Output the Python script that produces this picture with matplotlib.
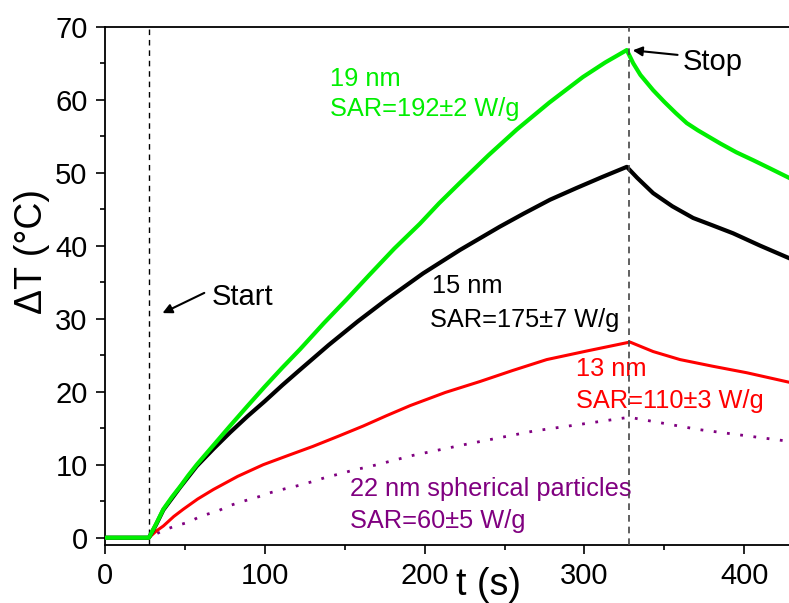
import matplotlib
matplotlib.use("Agg")
import matplotlib.pyplot as plt
from matplotlib.ticker import MultipleLocator

plt.rcParams['font.family'] = ['Liberation Sans', 'DejaVu Sans']

# ---- data ----
t_19 = [0, 27.5, 32, 36.5, 42, 47, 52, 57.4, 68, 78.2, 89, 100, 111, 122, 137, 151, 165, 181, 197, 209, 222,
        240, 257.6, 278, 299, 313, 326.5, 330.5, 335, 343, 350, 357, 364, 371, 385, 395, 405.7, 416, 428]
v_19 = [0, 0, 1.9, 3.9, 5.6, 7.0, 8.5, 10.0, 12.7, 15.3, 18.0, 20.7, 23.3, 25.8, 29.4, 32.6, 35.9, 39.6, 43.0, 45.8, 48.6,
        52.4, 55.9, 59.6, 63.1, 65.1, 66.8, 65.0, 63.4, 61.3, 59.7, 58.2, 56.8, 55.8, 54.0, 52.8, 51.7, 50.6, 49.3]

t_15 = [0, 27.5, 32, 36.5, 47, 57.4, 68, 78.2, 89, 100, 111, 122, 140, 158, 176, 199, 222, 247, 262, 278.5, 295, 311,
        326.5, 333, 343, 355, 368, 380, 393, 410, 428]
v_15 = [0, 0, 1.8, 3.8, 6.9, 9.8, 12.2, 14.4, 16.6, 18.7, 20.9, 23.0, 26.4, 29.6, 32.6, 36.2, 39.4, 42.6, 44.4, 46.3, 47.9, 49.4,
        50.8, 49.3, 47.2, 45.4, 43.8, 42.8, 41.7, 40.0, 38.3]

t_13 = [0, 27.5, 32, 36.5, 43, 49, 58, 67.8, 83, 99, 115, 130, 146, 161.6, 176, 191, 213, 234.7, 255, 276.4, 302,
        328.5, 343, 359.8, 380, 401.5, 428]
v_13 = [0, 0, 0.9, 1.6, 2.9, 3.9, 5.3, 6.6, 8.4, 10.0, 11.3, 12.5, 13.9, 15.3, 16.7, 18.1, 19.9, 21.4, 22.9, 24.4, 25.6,
        26.8, 25.5, 24.4, 23.5, 22.6, 21.3]

t_22 = [0, 27.5, 35.5, 43.8, 52, 60.5, 70, 78, 86.6, 96, 104, 112.6, 122, 130, 138.7, 148, 156, 164.8, 182.5, 191,
        226, 268, 328, 372, 428]
v_22 = [0, 0, 0.9, 1.6, 2.1, 3.0, 3.6, 4.4, 5.0, 5.6, 6.2, 6.7, 7.2, 7.7, 8.3, 8.8, 9.3, 9.7, 10.7, 11.2,
        12.8, 14.6, 16.5, 14.8, 13.2]

t_start = 27.5
t_stop = 327.7

x_ticks = [0, 100, 200, 300, 400]
y_ticks = [0, 10, 20, 30, 40, 50, 60, 70]

labels = {
    '19': ("19 nm", "SAR=192±2 W/g"),
    '15': ("15 nm", "SAR=175±7 W/g"),
    '13': ("13 nm", "SAR=110±3 W/g"),
    '22': ("22 nm spherical particles", "SAR=60±5 W/g"),
}

GREEN = '#00ee00'
RED = '#ff0000'
PURPLE = '#800080'

fig = plt.figure(figsize=(7.89, 6.03), dpi=100)
ax = fig.add_axes([105/789, 1-545/603, 1-105/789, (545-26.7)/603])

ax.plot(t_22, v_22, color=PURPLE, lw=2.0, linestyle=(0, (1, 3.8)), zorder=2)
ax.plot(t_13, v_13, color=RED, lw=2.2, zorder=3)
ax.plot(t_15, v_15, color='black', lw=3.0, zorder=4)
ax.plot(t_19, v_19, color=GREEN, lw=3.0, zorder=5)

ax.axvline(t_start, color='black', lw=1.0, linestyle=(0, (4, 3.5)), zorder=1)
ax.axvline(t_stop, color='#444444', lw=1.2, linestyle=(0, (4, 3)), zorder=6)

ax.set_xlim(0, 428)
ax.set_ylim(-1, 70)
ax.set_xticks(x_ticks)
ax.set_yticks(y_ticks)
ax.xaxis.set_minor_locator(MultipleLocator(50))
ax.yaxis.set_minor_locator(MultipleLocator(5))
ax.tick_params(which='both', direction='out', width=1.2, top=False, right=False)
ax.tick_params(which='major', length=6.5, labelsize=21, pad=6)
ax.tick_params(which='minor', length=3.8)
for s in ['left', 'bottom', 'top']:
    ax.spines[s].set_linewidth(1.3)
ax.spines['right'].set_visible(False)

ax.set_xlabel("t (s)", fontsize=27)
ax.xaxis.set_label_coords((488-105)/684, -0.043, transform=ax.transAxes)
ax.xaxis.label.set_va('top')
ax.set_ylabel("ΔT (°C)", fontsize=27)
ax.yaxis.set_label_coords(-0.080, 1-(251-26.7)/518.3)

fs = 18.3
ax.text(140.8, 61.9, labels['19'][0], color=GREEN, fontsize=fs, va='baseline')
ax.text(140.8, 57.8, labels['19'][1], color=GREEN, fontsize=fs, va='baseline')
ax.text(204.4, 33.5, labels['15'][0], color='black', fontsize=fs, va='baseline')
ax.text(203.4, 28.9, labels['15'][1], color='black', fontsize=fs, va='baseline')
ax.text(294.7, 22.1, labels['13'][0], color=RED, fontsize=fs, va='baseline')
ax.text(294.7, 17.8, labels['13'][1], color=RED, fontsize=fs, va='baseline')
ax.text(153.3, 5.69, labels['22'][0], color=PURPLE, fontsize=fs, va='baseline')
ax.text(153.3, 1.37, labels['22'][1], color=PURPLE, fontsize=fs, va='baseline')

ax.annotate("", xy=(34.4, 30.6), xytext=(63.7, 33.7),
            arrowprops=dict(arrowstyle='-|>', color='black', lw=1.5, mutation_scale=14))
ax.text(66.8, 31.9, "Start", fontsize=21, va='baseline')
ax.annotate("", xy=(328.5, 66.8), xytext=(360, 66.1),
            arrowprops=dict(arrowstyle='-|>', color='black', lw=1.5, mutation_scale=14))
ax.text(361.7, 64.1, "Stop", fontsize=21, va='baseline')

fig.savefig("out.png", dpi=100)
